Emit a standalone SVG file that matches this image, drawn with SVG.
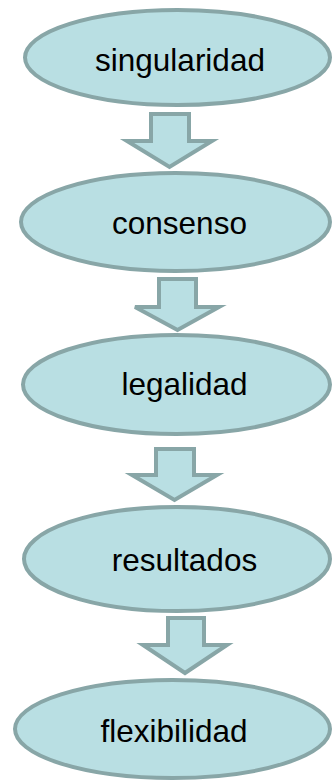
<svg xmlns="http://www.w3.org/2000/svg" width="333" height="782" viewBox="0 0 333 782">
<style>
.n ellipse{fill:#b9dfe3;stroke:#88a6a7;stroke-width:4}
.n text{font-family:"Liberation Sans",Arial,sans-serif;font-size:31.5px;fill:#000;text-anchor:middle}
.c path{fill:#b9dfe3;stroke:#88a6a7;stroke-width:4;stroke-linejoin:miter}
</style>
<rect width="333" height="782" fill="#fff"/>
<g class="c" id="connectors">
<path d="M151,114 L189,114 L189,141 L212,141 L169.5,167 L127,141 L151,141 Z"/>
<path d="M159,279 L196,279 L196,307 L219,307 L177.5,330 L135,307 L159,307 Z"/>
<path d="M156,449 L194,449 L194,475 L217,475 L174.5,500 L132,475 L156,475 Z"/>
<path d="M168,618 L204,618 L204,645 L227,645 L185,673 L143,645 L168,645 Z"/>
</g>
<g class="n" id="singularidad"><ellipse cx="177.5" cy="57.5" rx="152.5" ry="47.5"/><text x="180" y="71">singularidad</text></g>
<g class="n" id="consenso"><ellipse cx="175.5" cy="222" rx="154.5" ry="49"/><text x="179.5" y="234">consenso</text></g>
<g class="n" id="legalidad"><ellipse cx="176.5" cy="384.5" rx="153.5" ry="49.5"/><text x="184.5" y="395">legalidad</text></g>
<g class="n" id="resultados"><ellipse cx="177" cy="559" rx="153" ry="52"/><text x="184.5" y="571">resultados</text></g>
<g class="n" id="flexibilidad"><ellipse cx="172.5" cy="729" rx="157.5" ry="49"/><text x="174" y="742">flexibilidad</text></g>
</svg>
